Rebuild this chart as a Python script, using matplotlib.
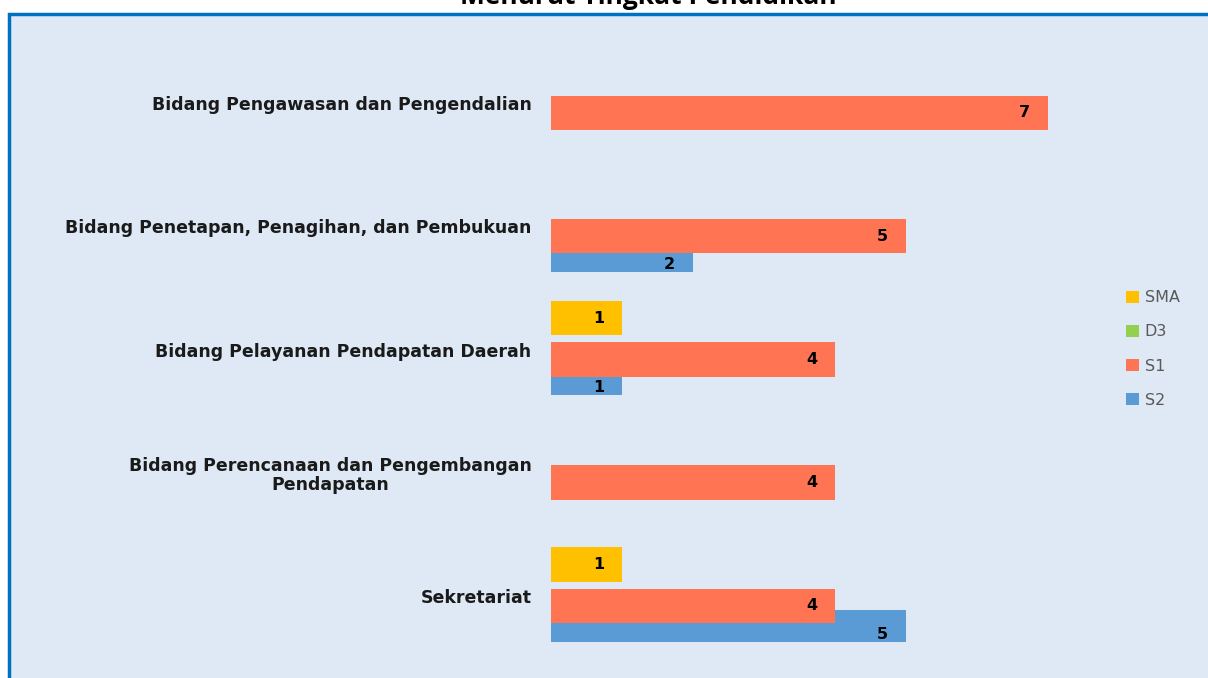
import numpy as np
import matplotlib.pyplot as plt
from matplotlib.patches import Rectangle

# data, listed from bottom to top as in the chart
bidang = ["Sekretariat",
          "Bidang Perencanaan dan Pengembangan\nPendapatan",
          "Bidang Pelayanan Pendapatan Daerah",
          "Bidang Penetapan, Penagihan, dan Pembukuan",
          "Bidang Pengawasan dan Pengendalian"]
sma = [1, np.nan, 1, np.nan, np.nan]
d3 = [np.nan, np.nan, np.nan, np.nan, np.nan]
s1 = [4, 4, 4, 5, 7]
s2 = [5, np.nan, 1, 2, np.nan]

seri = ["SMA", "D3", "S1", "S2"]
warna = ["#FFC000", "#92D050", "#FF7452", "#5B9BD5"]
bg = "#DEE9F5"

fig = plt.figure(figsize=(12.08, 6.78), dpi=100)
fig.patch.set_facecolor("white")

# chart area with blue border (cut off on the right and bottom)
fig.patches.append(Rectangle((9 / 1208, -0.05), 1.1, 1 - 14 / 678 + 0.05,
                             transform=fig.transFigure, facecolor=bg,
                             edgecolor="#0070C0", linewidth=2.5, zorder=-5))

fig.text(648 / 1208, 1 - 4 / 678, "Menurut Tingkat Pendidikan", ha="center",
         va="baseline", fontsize=19, fontweight="bold", family="Open Sans")

ax = fig.add_axes([551 / 1208, 0, (1098 - 551) / 1208, 1 - 15 / 678])
ax.set_facecolor("none")
y = np.arange(len(bidang))

# S2 sits partly behind S1, so draw it first
ax.barh(y - 0.24, s2, height=0.26, color=warna[3], label=seri[3], zorder=2)
ax.barh(y - 0.08, s1, height=0.28, color=warna[2], label=seri[2], zorder=3)
ax.barh(y + 0.09, d3, height=0.28, color=warna[1], label=seri[1], zorder=3)
ax.barh(y + 0.255, sma, height=0.28, color=warna[0], label=seri[0], zorder=3)

for vals, off in [(sma, 0.255), (s1, -0.08), (s2, -0.31)]:
    for i, v in enumerate(vals):
        if not np.isnan(v):
            ax.text(v - 0.33, y[i] + off, f"{int(v)}", ha="center", va="center",
                    fontsize=11.5, fontweight="bold", zorder=5)

ax.set_xlim(0, 7.7)
ax.set_ylim(-0.665, 4.714)
ax.set_yticks(y)
ax.set_yticklabels(bidang, fontsize=12.5, fontweight="bold", color="#1a1a1a",
                   family="DejaVu Sans", multialignment="center",
                   linespacing=1.1)
ax.tick_params(axis="y", length=0, pad=14)
ax.set_xticks([])
for s in ax.spines.values():
    s.set_visible(False)

h, l = ax.get_legend_handles_labels()
order = [3, 2, 1, 0]
leg = fig.legend([h[i] for i in order], [l[i] for i in order],
                 loc="center left", bbox_to_anchor=(1112 / 1208, 1 - 349 / 678),
                 frameon=False, fontsize=11.5, handlelength=0.8, handleheight=0.8,
                 labelspacing=1.2, handletextpad=0.35, labelcolor="#595959")

fig.savefig("out.png", dpi=100, facecolor="white")
